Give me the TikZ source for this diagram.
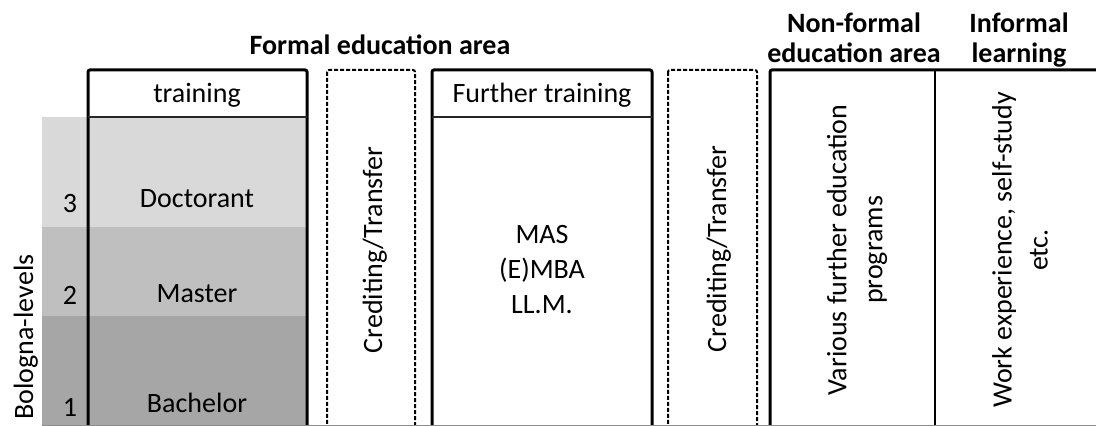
\documentclass[tikz,border=0pt]{standalone}
\usepackage{fontspec}
\setmainfont{Carlito}
\definecolor{lvlA}{gray}{0.85}
\definecolor{lvlB}{gray}{0.75}
\definecolor{lvlC}{gray}{0.65}
\tikzset{
  txt/.style={font=\fontsize{14}{17.5}\selectfont, inner sep=0pt},
  head/.style={font=\bfseries\fontsize{14}{15}\selectfont, inner sep=0pt, align=center},
  colbox/.style={line width=1.5pt, rounded corners=1pt},
  dashbox/.style={line width=1pt, dash pattern=on 2pt off 1pt, rounded corners=1pt},
  sep/.style={line width=1pt, black!85}
}
\begin{document}
\begin{tikzpicture}[x=0.5pt,y=-0.5pt]
\path[use as bounding box, clip] (0,0) rectangle (1096,426);

% bologna level bands
\fill[lvlA] (42,117) rectangle (307,227);
\fill[lvlB] (42,227) rectangle (307,316);
\fill[lvlC] (42,316) rectangle (307,430);

% formal education columns
\draw[colbox] (88,70) rectangle (307,440);
\draw[sep] (88,117) -- (307,117);
\draw[dashbox] (327,70) rectangle (415,440);
\draw[colbox] (432,70) rectangle (652,440);
\draw[sep] (432,117) -- (652,117);
\draw[dashbox] (668,70) rectangle (757,440);

% non-formal and informal
\draw[colbox] (770,70) rectangle (1110,440);
\draw[line width=1.2pt] (935,70) -- (935,440);
\draw[black!45, line width=0.4pt] (42,425.5) -- (1096,425.5);

% headings
\node[head, anchor=base] (formal) at (380,55) {Formal education area};
\node[head, anchor=north] (nonformal) at (854,12) {Non-formal\\education area};
\node[head, anchor=north] (informal) at (1019,12) {Informal\\learning};

% first column
\node[txt, anchor=base] (training) at (197,103) {training};
\node[txt, anchor=base] (doc) at (197,208) {Doctorant};
\node[txt, anchor=base] (mas) at (197,303) {Master};
\node[txt, anchor=base] (bac) at (197,413) {Bachelor};
\node[txt, anchor=base] (lvl3) at (70,213) {3};
\node[txt, anchor=base] (lvl2) at (70,305) {2};
\node[txt, anchor=base] (lvl1) at (70,416) {1};
\node[txt, anchor=base, rotate=90] (bologna) at (33,337) {Bologna-levels};

% crediting columns
\node[txt, anchor=base, rotate=90] (credit1) at (382,250) {Crediting/Transfer};
\node[txt, anchor=base, rotate=90] (credit2) at (726,249) {Crediting/Transfer};

% further training
\node[txt, anchor=base] (further) at (542,103) {Further training};
\node[txt, align=center] (degrees) at (542,270) {MAS\\(E)MBA\\LL.M.};

% right columns
\node[txt, align=center, rotate=90, font=\fontsize{14}{18}\selectfont] (various) at (857,250) {Various further education\\programs};
\node[txt, align=center, rotate=90, font=\fontsize{14}{18}\selectfont] (work) at (1020,250) {Work experience, self-study\\etc.};
\end{tikzpicture}
\end{document}
